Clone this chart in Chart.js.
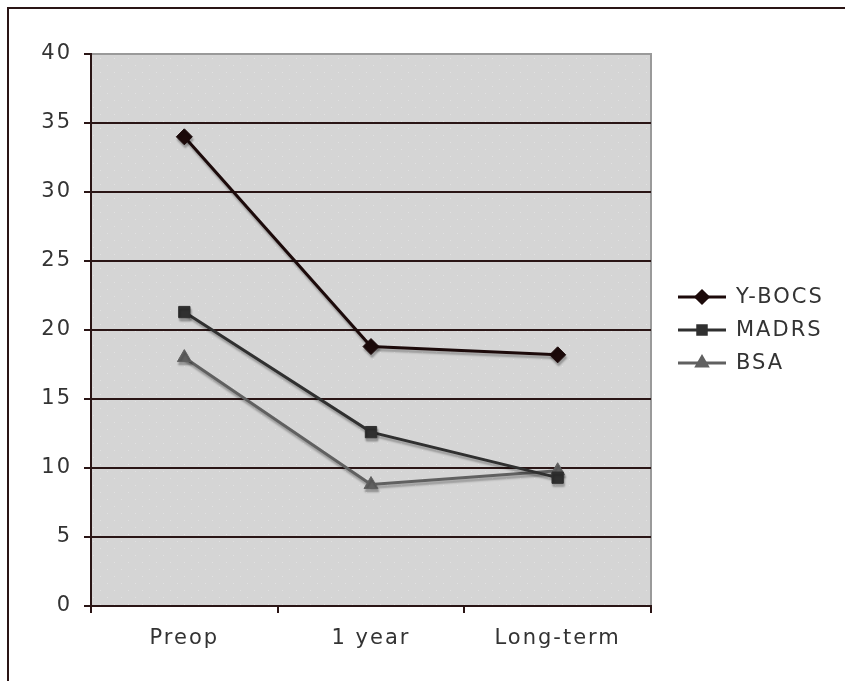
<!DOCTYPE html>
<html>
<head>
<meta charset="utf-8">
<script src="https://cdn.jsdelivr.net/npm/chart.js@4/dist/chart.umd.min.js"></script>
<style>
  html, body { margin: 0; padding: 0; background: #fff; }
  #wrap { position: relative; width: 845px; height: 681px; }
  #frame { position: absolute; left: 7px; top: 7px; right: -2px; bottom: -2px;
           border-left: 2px solid #2a1515; border-top: 2px solid #2a1515; }
  canvas { position: absolute; left: 0; top: 0; }
</style>
</head>
<body>
<div id="wrap">
  <div id="frame"></div>
  <canvas id="c" width="845" height="681"></canvas>
</div>
<script>
// Time points and scores
const timepoints = ['Preop', '1 year', 'Long-term'];
const ybocs = [34.0, 18.8, 18.2];
const madrs = [21.3, 12.6, 9.3];
const bsa   = [18.0, 8.8, 9.8];
const seriesNames = ['Y-BOCS', 'MADRS', 'BSA'];
const yTicks = [0, 5, 10, 15, 20, 25, 30, 35, 40];

const FONT = 'DejaVu Sans, Verdana, sans-serif';
const FONT_SIZE = 21;
const SPACING = '2px';
const colors = ['#1c0a0a', '#303030', '#606060'];
const markers = ['rectRot', 'rect', 'triangle'];

// dotted plot background
function dotPattern() {
  const p = document.createElement('canvas');
  p.width = 14; p.height = 14;
  const g = p.getContext('2d');
  g.fillStyle = '#d5d5d5';
  g.fillRect(0, 0, 14, 14);
  g.fillStyle = '#e2e2e2';
  g.fillRect(2, 2, 1, 1);
  g.fillRect(9, 9, 1, 1);
  return g.createPattern(p, 'repeat');
}

// letter spacing for all text on the canvas
const spacing = {
  id: 'spacing',
  beforeInit(chart) { chart.ctx.letterSpacing = SPACING; },
  beforeLayout(chart) { chart.ctx.letterSpacing = SPACING; },
  beforeDraw(chart) { chart.ctx.letterSpacing = SPACING; }
};

const plotBg = {
  id: 'plotBg',
  beforeDraw(chart) {
    const { ctx, chartArea: a } = chart;
    ctx.save();
    ctx.fillStyle = dotPattern();
    ctx.fillRect(a.left, a.top, a.right - a.left, a.bottom - a.top);
    ctx.strokeStyle = '#9a9a9a';
    ctx.lineWidth = 2;
    ctx.beginPath();
    ctx.moveTo(a.left, a.top);
    ctx.lineTo(a.right, a.top);
    ctx.lineTo(a.right, a.bottom);
    ctx.stroke();
    ctx.restore();
  }
};

const lineShadow = {
  id: 'lineShadow',
  beforeDatasetsDraw(chart) {
    const ctx = chart.ctx;
    ctx.save();
    ctx.shadowColor = 'rgba(0,0,0,0.28)';
    ctx.shadowBlur = 2;
    ctx.shadowOffsetX = 1;
    ctx.shadowOffsetY = 3;
  },
  afterDatasetsDraw(chart) {
    chart.ctx.restore();
  }
};

// legend drawn to the right of the plot from the dataset styles
const sideLegend = {
  id: 'sideLegend',
  afterDraw(chart) {
    const ctx = chart.ctx;
    const x0 = 678, x1 = 726, y0 = 297, dy = 33;
    ctx.save();
    ctx.letterSpacing = SPACING;
    chart.data.datasets.forEach((ds, i) => {
      const y = y0 + i * dy;
      ctx.strokeStyle = ds.borderColor;
      ctx.lineWidth = 3;
      ctx.beginPath();
      ctx.moveTo(x0, y);
      ctx.lineTo(x1, y);
      ctx.stroke();
      ctx.fillStyle = ds.borderColor;
      ctx.strokeStyle = ds.borderColor;
      Chart.helpers.drawPoint(ctx, {
        pointStyle: ds.pointStyle, radius: 6, rotation: 0, borderWidth: 1
      }, (x0 + x1) / 2, y);
      ctx.fillStyle = '#333';
      ctx.font = FONT_SIZE + 'px ' + FONT;
      ctx.textBaseline = 'middle';
      ctx.textAlign = 'left';
      ctx.fillText(ds.label, x1 + 10, y + 1);
    });
    ctx.restore();
  }
};

const values = [ybocs, madrs, bsa];
const datasets = values.map((v, i) => ({
  label: seriesNames[i],
  data: v,
  borderColor: colors[i],
  backgroundColor: colors[i],
  borderWidth: 3,
  pointStyle: markers[i],
  pointRadius: 8,
  pointBorderWidth: 1,
  pointBorderColor: colors[i],
  pointBackgroundColor: colors[i],
  tension: 0
}));

new Chart(document.getElementById('c'), {
  type: 'line',
  data: { labels: timepoints, datasets },
  options: {
    responsive: false,
    animation: false,
    devicePixelRatio: 1,
    layout: { padding: { left: 0, top: 54, right: 194, bottom: 0 } },
    plugins: { legend: { display: false }, tooltip: { enabled: false } },
    scales: {
      x: {
        type: 'category',
        offset: true,
        grid: {
          offset: true,
          drawOnChartArea: false,
          drawTicks: true,
          tickLength: 7,
          color: '#2a1515',
          lineWidth: 2
        },
        border: { color: '#2a1515', width: 2 },
        ticks: { color: '#333', font: { family: FONT, size: FONT_SIZE }, padding: 13 },
        afterFit(s) { s.height = 75; }
      },
      y: {
        min: 0, max: 40,
        afterBuildTicks(s) { s.ticks = yTicks.map(v => ({ value: v })); },
        grid: {
          color: ctx => (ctx.tick && ctx.tick.value === 40 ? 'rgba(0,0,0,0)' : '#2a1515'),
          lineWidth: 2,
          tickLength: 7,
          tickColor: '#2a1515'
        },
        border: { color: '#2a1515', width: 2 },
        ticks: { color: '#333', font: { family: FONT, size: FONT_SIZE }, padding: 12 },
        afterFit(s) { s.width = 91; }
      }
    }
  },
  plugins: [spacing, plotBg, lineShadow, sideLegend]
});
</script>
</body>
</html>
